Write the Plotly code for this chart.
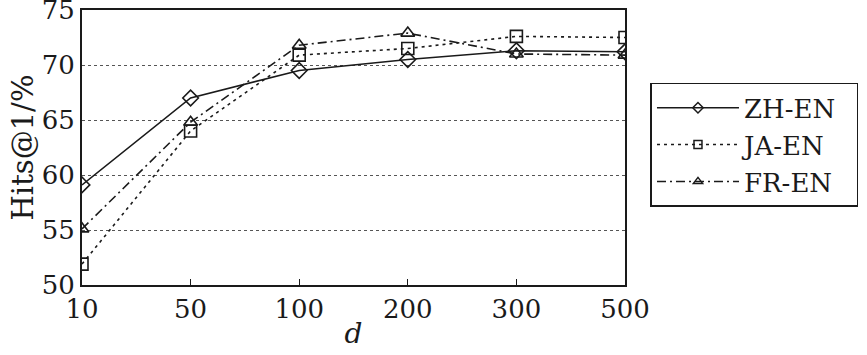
import plotly.graph_objects as go

categories = ["10", "50", "100", "200", "300", "500"]
zh_en = [59.1, 67.0, 69.5, 70.5, 71.3, 71.2]
ja_en = [51.9, 64.0, 70.9, 71.5, 72.6, 72.5]
fr_en = [55.1, 64.8, 71.8, 72.9, 71.0, 70.9]
y_ticks = [50, 55, 60, 65, 70, 75]
series = [("ZH-EN", zh_en, "solid", "diamond-open"),
          ("JA-EN", ja_en, "3px,4px", "square-open"),
          ("FR-EN", fr_en, "9px,4px,2px,4px", "triangle-up-open")]

FONT = "DejaVu Serif"
INK = "#1a1a1a"

fig = go.Figure()
for name, vals, dash, sym in series:
    fig.add_trace(go.Scatter(x=categories, y=vals, name=name, mode="lines+markers", showlegend=False,
                             line=dict(color=INK, width=1.6, dash=dash),
                             marker=dict(symbol=sym, size=12, color=INK, line=dict(width=1.6))))
for name, vals, dash, sym in series:
    fig.add_trace(go.Scatter(x=[None], y=[None], name=name + "\u00a0\u00a0", mode="lines+markers",
                             line=dict(color=INK, width=1.5, dash=dash),
                             marker=dict(symbol=sym, size=8, color=INK, line=dict(width=1.5))))

fig.update_layout(
    width=867, height=355,
    margin=dict(l=82, r=241, t=10, b=70),
    paper_bgcolor="white", plot_bgcolor="white",
    font=dict(family=FONT, size=24, color=INK),
    legend=dict(x=1.045, y=0.735, xanchor="left", yanchor="top",
                bordercolor=INK, borderwidth=1.5,
                font=dict(family=FONT, size=26), itemwidth=82,
                tracegroupgap=0),
    xaxis=dict(type="category", range=[0, 5], showline=True, linecolor=INK, linewidth=2,
               mirror=True, ticks="inside", ticklen=6, tickcolor=INK, showgrid=False,
               automargin=False, ticklabeloverflow="allow",
               tickfont=dict(family=FONT, size=26),
               title=dict(text="<i>d</i>", font=dict(family=FONT, size=28), standoff=0)),
    yaxis=dict(range=[50, 75], tickvals=y_ticks, showline=True, linecolor=INK, linewidth=2,
               mirror=True, ticks="", showgrid=True, gridcolor="#555555", griddash="dot",
               gridwidth=1, zeroline=False, automargin=False, ticklabeloverflow="allow",
               tickfont=dict(family=FONT, size=26),
               title=dict(text="Hits@1/%", font=dict(family=FONT, size=29), standoff=0)),
)

fig.write_html("out.html", config={"displayModeBar": False},
               post_script="document.body.style.margin='0';")
